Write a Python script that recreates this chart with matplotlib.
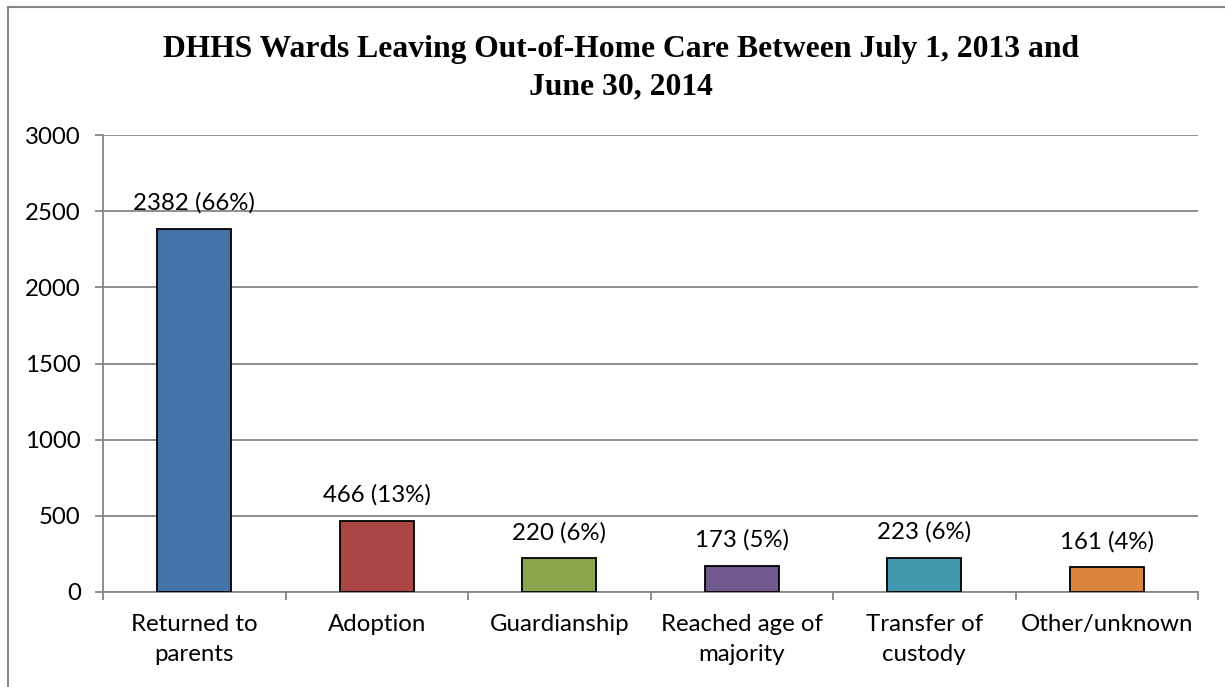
import matplotlib.pyplot as plt
from matplotlib.lines import Line2D

categories = ['Returned to\nparents', 'Adoption', 'Guardianship',
              'Reached age of\nmajority', 'Transfer of\ncustody', 'Other/unknown']
counts = [2382, 466, 220, 173, 223, 161]
percents = [66, 13, 6, 5, 6, 4]
colors = ['#4572A7', '#AA4643', '#89A54E', '#71588F', '#4198AF', '#DB843D']
yticks = [0, 500, 1000, 1500, 2000, 2500, 3000]

W, H = 1225, 687
fig = plt.figure(figsize=(W / 100, H / 100), dpi=100)
ax = fig.add_axes([103 / W, 1 - 592 / H, (1198 - 103) / W, (592 - 135) / H])

grey = '#868686'
fs = 17.3
x = range(len(categories))
ax.bar(x, counts, width=0.405, color=colors, edgecolor='black', linewidth=1.3, zorder=3)

for i, (c, p) in enumerate(zip(counts, percents)):
    ax.annotate(f'{c} ({p}%)', (i, c), xytext=(0, 11), textcoords='offset points',
                ha='center', va='bottom', fontsize=fs, family='Lato')

ax.set_xlim(-0.5, len(categories) - 0.5)
ax.set_ylim(0, 3000)
ax.set_yticks(yticks)
ax.set_yticklabels([str(t) for t in yticks], fontsize=fs, family='Lato')
ax.yaxis.grid(True, color=grey, linewidth=1.3, zorder=0)

ax.set_xticks(list(x))
ax.set_xticklabels(categories, fontsize=fs, family='Lato', linespacing=1.5)
ax.tick_params(axis='x', length=0, pad=16)
ax.tick_params(axis='y', length=6, width=1.3, color=grey, pad=10)
# category boundary ticks
ax.set_xticks([i - 0.5 for i in range(len(categories) + 1)], minor=True)
ax.tick_params(axis='x', which='minor', length=6, width=1.3, color=grey, direction='out')

for s in ['top', 'right']:
    ax.spines[s].set_visible(False)
for s in ['left', 'bottom']:
    ax.spines[s].set_color(grey)
    ax.spines[s].set_linewidth(1.3)

fig.text(621 / W, 1 - 49 / H, 'DHHS Wards Leaving Out-of-Home Care Between July 1, 2013 and',
         ha='center', va='center', fontsize=22.8, fontweight='bold', family='Liberation Serif')
fig.text(621 / W, 1 - 87 / H, 'June 30, 2014',
         ha='center', va='center', fontsize=22.8, fontweight='bold', family='Liberation Serif')

# chart border (top and left visible)
fig.add_artist(Line2D([8 / W, 8 / W], [0, 1 - 7 / H], color=grey, linewidth=1.5, transform=fig.transFigure))
fig.add_artist(Line2D([8 / W, 1], [1 - 7 / H, 1 - 7 / H], color=grey, linewidth=1.5, transform=fig.transFigure))

fig.savefig('out.png', dpi=100)
